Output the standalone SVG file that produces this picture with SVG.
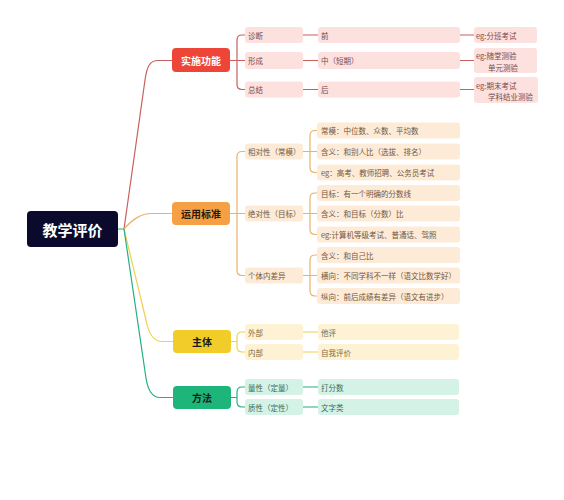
<svg xmlns="http://www.w3.org/2000/svg" width="564" height="500" viewBox="0 0 564 500">
<style>
text{font-family:"Noto Sans CJK SC","Noto Sans",sans-serif;dominant-baseline:central}
.t{font-size:7.5px}
.br{font-size:10px;font-weight:bold}
.c{fill:none;stroke-width:1.2;stroke-linecap:round}
.rl{fill:#fde1df}.rt{fill:#7a4a4a}.rc{stroke:#c8605e}
.ol{fill:#fdebd8}.ot{fill:#74573a}.oc{stroke:#eab26a}
.yl{fill:#fdf3d4}.yt{fill:#7a6a40}.yc{stroke:#f0d04e}
.gl{fill:#d5f2e6}.gt{fill:#3a6e5c}.gc{stroke:#25ae82}
</style>
<rect width="564" height="500" fill="#ffffff"/>
<g id="connectors">
  <path class="c" stroke="#26b088" d="M118,229 H124"/>
  <path class="c rc" d="M124,229 L145,80 C147,66 150,60.5 158,60.5 H172"/>
  <path class="c oc" d="M124,229 C132,220 140,213.5 152,213.5 H172"/>
  <path class="c yc" d="M124,229 L146,320 Q150,341.5 162,341.5 H173"/>
  <path class="c gc" d="M124,229 L146,378 Q149,397.5 160,397.5 H173"/>
  <!-- red -->
  <path class="c rc" d="M230,60.5 H245 M245,35 H242 Q237,35 237,40 V84.5 Q237,89.5 242,89.5 H245"/>
  <path class="c rc" d="M303,35 H318 M303,60.5 H318 M303,89.5 H318 M460,35 H474 M460,60.5 H474 M460,89.5 H474"/>
  <!-- orange -->
  <path class="c oc" d="M230,213.5 H245 M245,151.5 H242 Q237,151.5 237,156.5 V270.5 Q237,275.5 242,275.5 H245"/>
  <path class="c oc" d="M303,151.5 H317 M317,130.5 H315 Q310,130.5 310,135.5 V167.5 Q310,172.5 315,172.5 H317"/>
  <path class="c oc" d="M303,213.5 H317 M317,193 H315 Q310,193 310,198 V229.5 Q310,234.5 315,234.5 H317"/>
  <path class="c oc" d="M303,275.5 H317 M317,255 H315 Q310,255 310,260 V291 Q310,296 315,296 H317"/>
  <!-- yellow -->
  <path class="c yc" d="M231,341.5 H237 M245,332 H242 Q237,332 237,337 V347 Q237,352 242,352 H245"/>
  <path class="c yc" d="M303,332 H318 M303,352 H318"/>
  <!-- green -->
  <path class="c gc" d="M231,397.5 H237 M245,387 H242 Q237,387 237,392 V402 Q237,407 242,407 H245"/>
  <path class="c gc" d="M303,387 H318 M303,407 H318"/>
</g>
<g id="root">
  <rect x="27" y="211" width="91" height="36" rx="4" fill="#0c0a2c"/>
  <text x="72.5" y="229" text-anchor="middle" font-size="15" font-weight="bold" fill="#ffffff">教学评价</text>
</g>
<g id="b1">
  <rect x="172" y="48" width="58" height="24" rx="4" fill="#ee4539"/>
  <text class="br" x="201" y="60.5" text-anchor="middle" fill="#ffffff">实施功能</text>
</g>
<g id="b2">
  <rect x="172" y="202" width="58" height="23" rx="4" fill="#f6a045"/>
  <text class="br" x="201" y="213.5" text-anchor="middle" fill="#2a1a0a">运用标准</text>
</g>
<g id="b3">
  <rect x="173" y="330" width="58" height="23" rx="4" fill="#f2cd2a"/>
  <text class="br" x="202" y="341.5" text-anchor="middle" fill="#1a1a1a">主体</text>
</g>
<g id="b4">
  <rect x="173" y="386" width="58" height="23" rx="4" fill="#1db57a"/>
  <text class="br" x="202" y="397.5" text-anchor="middle" fill="#1a1a1a">方法</text>
</g>
<!-- red level 2/3/4 -->
<g id="n-zd"><rect class="rl" x="245" y="27" width="58" height="16" rx="3"/><text class="t rt" x="248" y="35">诊断</text></g>
<g id="n-xc"><rect class="rl" x="245" y="52" width="58" height="17" rx="3"/><text class="t rt" x="248" y="60.5">形成</text></g>
<g id="n-zj"><rect class="rl" x="245" y="81.5" width="58" height="16" rx="3"/><text class="t rt" x="248" y="89.5">总结</text></g>
<g id="n-q"><rect class="rl" x="318" y="27" width="142" height="16" rx="3"/><text class="t rt" x="321" y="35">前</text></g>
<g id="n-z"><rect class="rl" x="318" y="52" width="142" height="17" rx="3"/><text class="t rt" x="321" y="60.5">中（短期）</text></g>
<g id="n-h"><rect class="rl" x="318" y="81.5" width="142" height="16" rx="3"/><text class="t rt" x="321" y="89.5">后</text></g>
<g id="n-eg1"><rect class="rl" x="474" y="27" width="63" height="16" rx="3"/><text class="t rt" x="476" y="35">eg:分班考试</text></g>
<g id="n-eg2"><rect class="rl" x="474" y="48" width="63" height="25" rx="3"/><text class="t rt" x="476" y="55">eg:随堂测验</text><text class="t rt" x="488" y="67">单元测验</text></g>
<g id="n-eg3"><rect class="rl" x="474" y="77" width="64" height="26" rx="3"/><text class="t rt" x="476" y="85">eg:期末考试</text><text class="t rt" x="488" y="96">学科结业测验</text></g>
<!-- orange -->
<g id="n-xd"><rect class="ol" x="245" y="143.5" width="58" height="16" rx="3"/><text class="t ot" x="248" y="151.5">相对性（常模）</text></g>
<g id="n-jd"><rect class="ol" x="245" y="205.5" width="58" height="16" rx="3"/><text class="t ot" x="248" y="213.5">绝对性（目标）</text></g>
<g id="n-gt"><rect class="ol" x="245" y="267.5" width="58" height="16" rx="3"/><text class="t ot" x="248" y="275.5">个体内差异</text></g>
<g id="n-o1"><rect class="ol" x="317" y="122.5" width="143" height="16" rx="3"/><text class="t ot" x="321" y="130.5">常模：中位数、众数、平均数</text></g>
<g id="n-o2"><rect class="ol" x="317" y="143.5" width="143" height="16" rx="3"/><text class="t ot" x="321" y="151.5">含义：和别人比（选拔、排名）</text></g>
<g id="n-o3"><rect class="ol" x="317" y="164.5" width="143" height="16" rx="3"/><text class="t ot" x="321" y="172.5">eg：高考、教师招聘、公务员考试</text></g>
<g id="n-o4"><rect class="ol" x="317" y="185" width="143" height="16" rx="3"/><text class="t ot" x="321" y="193">目标：有一个明确的分数线</text></g>
<g id="n-o5"><rect class="ol" x="317" y="205.5" width="143" height="16" rx="3"/><text class="t ot" x="321" y="213.5">含义：和目标（分数）比</text></g>
<g id="n-o6"><rect class="ol" x="317" y="226.5" width="143" height="16" rx="3"/><text class="t ot" x="321" y="234.5">eg:计算机等级考试、普通话、驾照</text></g>
<g id="n-o7"><rect class="ol" x="317" y="247" width="143" height="16" rx="3"/><text class="t ot" x="321" y="255">含义：和自己比</text></g>
<g id="n-o8"><rect class="ol" x="317" y="267.5" width="143" height="16" rx="3"/><text class="t ot" x="321" y="275.5">横向：不同学科不一样（语文比数学好）</text></g>
<g id="n-o9"><rect class="ol" x="317" y="288" width="143" height="16" rx="3"/><text class="t ot" x="321" y="296">纵向：前后成绩有差异（语文有进步）</text></g>
<!-- yellow -->
<g id="n-wb"><rect class="yl" x="245" y="324" width="58" height="16" rx="3"/><text class="t yt" x="248" y="332">外部</text></g>
<g id="n-nb"><rect class="yl" x="245" y="344" width="58" height="16" rx="3"/><text class="t yt" x="248" y="352">内部</text></g>
<g id="n-tp"><rect class="yl" x="318" y="324" width="141" height="16" rx="3"/><text class="t yt" x="321" y="332">他评</text></g>
<g id="n-zw"><rect class="yl" x="318" y="344" width="141" height="16" rx="3"/><text class="t yt" x="321" y="352">自我评价</text></g>
<!-- green -->
<g id="n-lx"><rect class="gl" x="245" y="379" width="58" height="16" rx="3"/><text class="t gt" x="248" y="387">量性（定量）</text></g>
<g id="n-zx"><rect class="gl" x="245" y="399" width="58" height="16" rx="3"/><text class="t gt" x="248" y="407">质性（定性）</text></g>
<g id="n-dfs"><rect class="gl" x="318" y="379" width="141" height="16" rx="3"/><text class="t gt" x="321" y="387">打分数</text></g>
<g id="n-wzl"><rect class="gl" x="318" y="399" width="141" height="16" rx="3"/><text class="t gt" x="321" y="407">文字类</text></g>
</svg>
